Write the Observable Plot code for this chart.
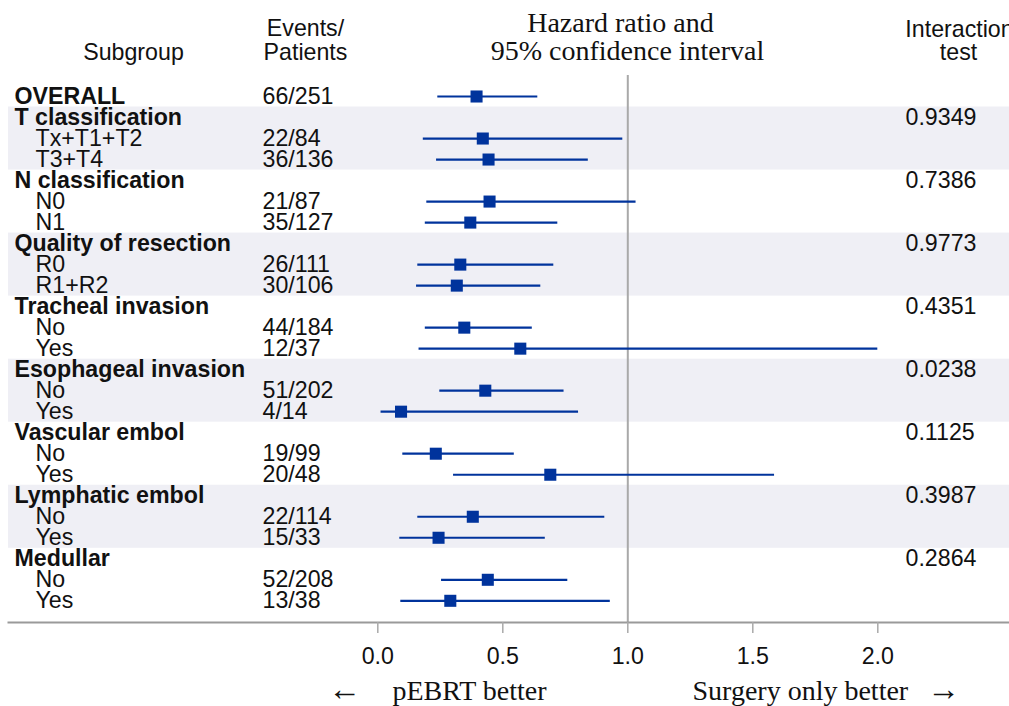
<!DOCTYPE html>
<html>
<head>
<meta charset="utf-8">
<script src="https://cdn.jsdelivr.net/npm/d3@7"></script>
<script src="https://cdn.jsdelivr.net/npm/@observablehq/plot@0.6"></script>
<style>
  html, body { margin: 0; padding: 0; background: #fff; overflow: hidden; }
</style>
</head>
<body>
<div id="chart"></div>
<script>
// ---- data ----
const labels = ["OVERALL","T classification","Tx+T1+T2","T3+T4","N classification","N0","N1",
  "Quality of resection","R0","R1+R2","Tracheal invasion","No","Yes","Esophageal invasion","No","Yes",
  "Vascular embol","No","Yes","Lymphatic embol","No","Yes","Medullar","No","Yes"];
const levels = [0,0,1,1,0,1,1,0,1,1,0,1,1,0,1,1,0,1,1,0,1,1,0,1,1];
const events = ["66/251","","22/84","36/136","","21/87","35/127","","26/111","30/106","","44/184","12/37",
  "","51/202","4/14","","19/99","20/48","","22/114","15/33","","52/208","13/38"];
const hr = [0.395,null,0.42,0.443,null,0.447,0.37,null,0.33,0.316,null,0.346,0.57,null,0.43,0.093,
  null,0.232,0.69,null,0.38,0.243,null,0.44,0.29];
const lo = [0.24,null,0.182,0.235,null,0.196,0.19,null,0.16,0.155,null,0.19,0.165,null,0.248,0.013,
  null,0.10,0.303,null,0.16,0.088,null,0.255,0.092];
const hi = [0.64,null,0.98,0.842,null,1.033,0.72,null,0.704,0.652,null,0.618,2.0,null,0.745,0.803,
  null,0.546,1.587,null,0.908,0.67,null,0.76,0.93];
const pvals = ["","0.9349","","","0.7386","","","0.9773","","","0.4351","","","0.0238","","",
  "0.1125","","","0.3987","","","0.2864","",""];
const bandStart = [1,7,13,19];
const bandEnd = [3,9,15,21];
const xTicks = [0,0.5,1,1.5,2];

// ---- build ----
const rows = labels.map((label,i)=>({i,label,level:levels[i],events:events[i],hr:hr[i],lo:lo[i],hi:hi[i],p:pvals[i]}));
const est = rows.filter(d=>d.hr!=null);
const bands = bandStart.map((s,k)=>({s,e:bandEnd[k]}));

const W = 1009, H = 706, ML = 8, MT = 75, MB = 84;
const SANS = "'Liberation Sans', Arial, Helvetica, sans-serif";
const SERIF = "'Liberation Serif', 'Times New Roman', serif";
const FS = 23.2;
const at = (x,y) => ({frameAnchor:"top-left", lineAnchor:"middle", dx:x-ML, dy:y-MT});
const BLUE = "#00339c";

const chart = Plot.plot({
  width: W, height: H,
  marginLeft: ML, marginRight: 0, marginTop: MT, marginBottom: MB,
  style: {fontFamily: SANS, fontSize: FS+"px", color:"#111", background:"#fff"},
  x: {type:"linear", domain:[0,2], range:[377.3,877.3], axis:null},
  y: {type:"linear", domain:[0,24], range:[96,600.3], axis:null},
  marks: [
    Plot.rect(bands, {y1:d=>d.s-0.5, y2:d=>d.e+0.5, fill:"#efeff5"}),
    Plot.ruleX([1], {stroke:"#a9a9a9", strokeWidth:2}),
    Plot.frame({anchor:"bottom", stroke:"#9a9a9a", strokeWidth:2}),
    Plot.axisX({ticks:xTicks, tickFormat:d3.format(".1f"), anchor:"bottom", tickSize:11, tickPadding:14,
      stroke:"#a9a9a9", strokeWidth:1.5, fill:"#111", fontSize:FS, label:null}),
    Plot.ruleY(est, {y:"i", x1:"lo", x2:"hi", stroke:BLUE, strokeWidth:2.2}),
    Plot.dot(est, {y:"i", x:"hr", symbol:"square", r:6.8, fill:BLUE, stroke:"none"}),
    Plot.text(rows.filter(d=>d.level===0), {y:"i", text:"label", frameAnchor:"left", dx:6, textAnchor:"start", fontWeight:"bold", fontSize:FS}),
    Plot.text(rows.filter(d=>d.level===1), {y:"i", text:"label", frameAnchor:"left", dx:27, textAnchor:"start", fontSize:FS}),
    Plot.text(rows.filter(d=>d.events), {y:"i", text:"events", frameAnchor:"left", dx:254, textAnchor:"start", fontSize:FS}),
    Plot.text(rows.filter(d=>d.p), {y:"i", text:"p", frameAnchor:"left", dx:897, textAnchor:"start", fontSize:FS}),
    // headers
    Plot.text(["Subgroup"], {...at(133,52), textAnchor:"middle", fontSize:FS}),
    Plot.text(["Events/"], {...at(305,28), textAnchor:"middle", fontSize:FS}),
    Plot.text(["Patients"], {...at(305,52.5), textAnchor:"middle", fontSize:FS}),
    Plot.text(["Hazard ratio and"], {...at(620,23), textAnchor:"middle", fontFamily:SERIF, fontSize:28}),
    Plot.text(["95% confidence interval"], {...at(627,51), textAnchor:"middle", fontFamily:SERIF, fontSize:28}),
    Plot.text(["Interaction"], {...at(959,29), textAnchor:"middle", fontSize:FS}),
    Plot.text(["test"], {...at(958,52.5), textAnchor:"middle", fontSize:FS}),
    // direction labels
    Plot.text(["\u2190"], {...at(344,689), textAnchor:"middle", fontFamily:SERIF, fontSize:33}),
    Plot.text(["pEBRT better"], {...at(392,691), textAnchor:"start", fontFamily:SERIF, fontSize:28}),
    Plot.text(["Surgery only better"], {...at(692,691), textAnchor:"start", fontFamily:SERIF, fontSize:28}),
    Plot.text(["\u2192"], {...at(943,689), textAnchor:"middle", fontFamily:SERIF, fontSize:33})
  ]
});
document.getElementById("chart").appendChild(chart);
</script>
</body>
</html>
